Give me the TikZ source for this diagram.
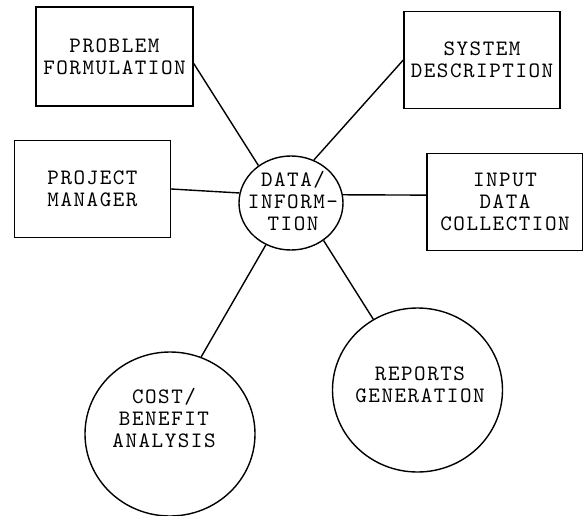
\documentclass[tikz,border=0pt]{standalone}
\usepackage{fontspec}
\newfontfamily\typerfont{lmmono10-regular.otf}[LetterSpace=7]
\usetikzlibrary{shapes.geometric}
\newcommand{\typer}{\typerfont\fontsize{22}{22}\selectfont}

\begin{document}
\begin{tikzpicture}[x=1pt, y=-1pt, line width=1.4pt,
  txt/.style={font=\typer, align=center, inner sep=0},
  box/.style={txt, draw, rectangle, minimum width=156pt, minimum height=97pt},
  hub/.style={draw, ellipse, inner sep=0, minimum width=104pt, minimum height=94pt},
  bigcirc/.style={draw, ellipse, inner sep=0, minimum width=170pt, minimum height=164pt}]
\useasboundingbox (0,0) rectangle (583,516);
% the hub and the boxes round it
\node[hub] (data) at (291,203) {};
\node[txt] (datatxt) at (293,201) {DATA/\\INFORM-\\TION};
\node[box, minimum width=157pt, minimum height=99pt] (pf) at (114.5,56.5) {PROBLEM\\FORMULATION};
\node[box] (pm) at (92.5,189) {PROJECT\\MANAGER};
\node[box] (sd) at (482,60) {SYSTEM\\DESCRIPTION};
\node[box] (idc) at (505,202) {INPUT\\DATA\\COLLECTION};
% the two circles below
\node[bigcirc] (cba) at (170,434) {};
\node[txt] (cbatxt) at (164,418) {COST/\\BENEFIT\\ANALYSIS};
\node[bigcirc] (rg) at (417.5,390) {};
\node[txt] (rgtxt) at (420,385) {REPORTS\\GENERATION};
% spokes
\draw (pf.-5) -- (data.131);
\draw (pm.east) -- (data.169);
\draw (sd.west) -- (data.62);
\draw (idc.175) -- (data.9);
\draw (cba.68) -- (data.239);
\draw (rg.122) -- (data.311);
\end{tikzpicture}
\end{document}
